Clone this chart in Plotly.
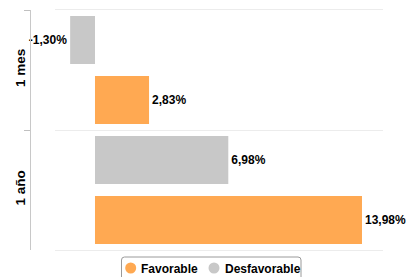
import plotly.graph_objects as go

categories = ["1 mes", "1 año"]
favorable = [2.83, 13.98]
desfavorable = [-1.30, 6.98]
legend_labels = ["Favorable", "Desfavorable"]

ORANGE = "#ffa952"
GRAY = "#c8c8c8"
FONT = "Liberation Sans, Arial, sans-serif"

W, H = 417, 277
L, R, T, B = 30, 34, 10, 27
pw, ph = W - L - R, H - T - B


def px(x):
    return (x - L) / pw


def py(y):
    return (H - B - y) / ph


fig = go.Figure()
fig.add_trace(go.Bar(
    y=categories, x=desfavorable, orientation="h", name=legend_labels[1],
    marker=dict(color=GRAY, line=dict(width=0)),
    texttemplate="%{x:.2f}%", textposition="outside", cliponaxis=False,
    constraintext="none",
    textfont=dict(family=FONT, size=12, color="#000000", weight="bold"),
    showlegend=False,
))
fig.add_trace(go.Bar(
    y=categories, x=favorable, orientation="h", name=legend_labels[0],
    marker=dict(color=ORANGE, line=dict(width=0)),
    texttemplate="%{x:.2f}%", textposition="outside", cliponaxis=False,
    constraintext="none",
    textfont=dict(family=FONT, size=12, color="#000000", weight="bold"),
    showlegend=False,
))

# legend box (drawn manually to match compact style)
x0, x1, y0, y1, r = 121.5, 301, 257, 285, 3
path = (f"M {px(x0 + r)},{py(y0)} L {px(x1 - r)},{py(y0)} "
        f"Q {px(x1)},{py(y0)} {px(x1)},{py(y0 + r)} L {px(x1)},{py(y1)} "
        f"L {px(x0)},{py(y1)} L {px(x0)},{py(y0 + r)} "
        f"Q {px(x0)},{py(y0)} {px(x0 + r)},{py(y0)} Z")
shapes = [dict(type="path", path=path, xref="paper", yref="paper",
               line=dict(color="#9a9a9a", width=1), fillcolor="white",
               layer="above")]
annotations = []
for (cx, tx), label, col in zip([(130.7, 139), (214, 222.5)], legend_labels, [ORANGE, GRAY]):
    rr = 5.5
    shapes.append(dict(type="circle", xref="paper", yref="paper",
                       x0=px(cx - rr), x1=px(cx + rr), y0=py(268 + rr), y1=py(268 - rr),
                       fillcolor=col, line=dict(width=0), layer="above"))
    annotations.append(dict(text=label, xref="paper", yref="paper",
                            x=px(tx), y=py(268.5), xanchor="left", yanchor="middle",
                            showarrow=False,
                            font=dict(family=FONT, size=12, color="#000000", weight="bold")))

fig.update_layout(
    width=W, height=H,
    margin=dict(l=L, r=R, t=T, b=B, pad=0, autoexpand=False),
    paper_bgcolor="white", plot_bgcolor="white",
    barmode="group", bargap=0.0, bargroupgap=0.2,
    separators=",.",
    showlegend=False,
    font=dict(family=FONT, size=12, color="#000000"),
    xaxis=dict(
        domain=[25 / pw, 1], range=[-2.094, 15.08],
        showgrid=False, zeroline=False, showticklabels=False,
        showline=True, mirror=True, linecolor="#ececec", linewidth=1,
        ticks="", fixedrange=True, automargin=False,
    ),
    yaxis=dict(
        type="category", categoryorder="array", categoryarray=categories,
        autorange="reversed", automargin=False,
        anchor="free", position=0,
        tickson="boundaries", ticks="outside", ticklen=6,
        tickcolor="#c0c0c0", tickwidth=1,
        showline=True, linecolor="#c8c8c8", linewidth=1,
        showgrid=True, gridcolor="#ececec", gridwidth=1,
        tickangle=-90, fixedrange=True,
        tickfont=dict(family=FONT, size=13.5, color="#000000", weight="bold"),
    ),
    shapes=shapes,
    annotations=annotations,
)

fig.write_html(
    "out.html",
    config={"displayModeBar": False},
    post_script="document.body.style.margin='0';document.body.style.overflow='hidden';",
)
